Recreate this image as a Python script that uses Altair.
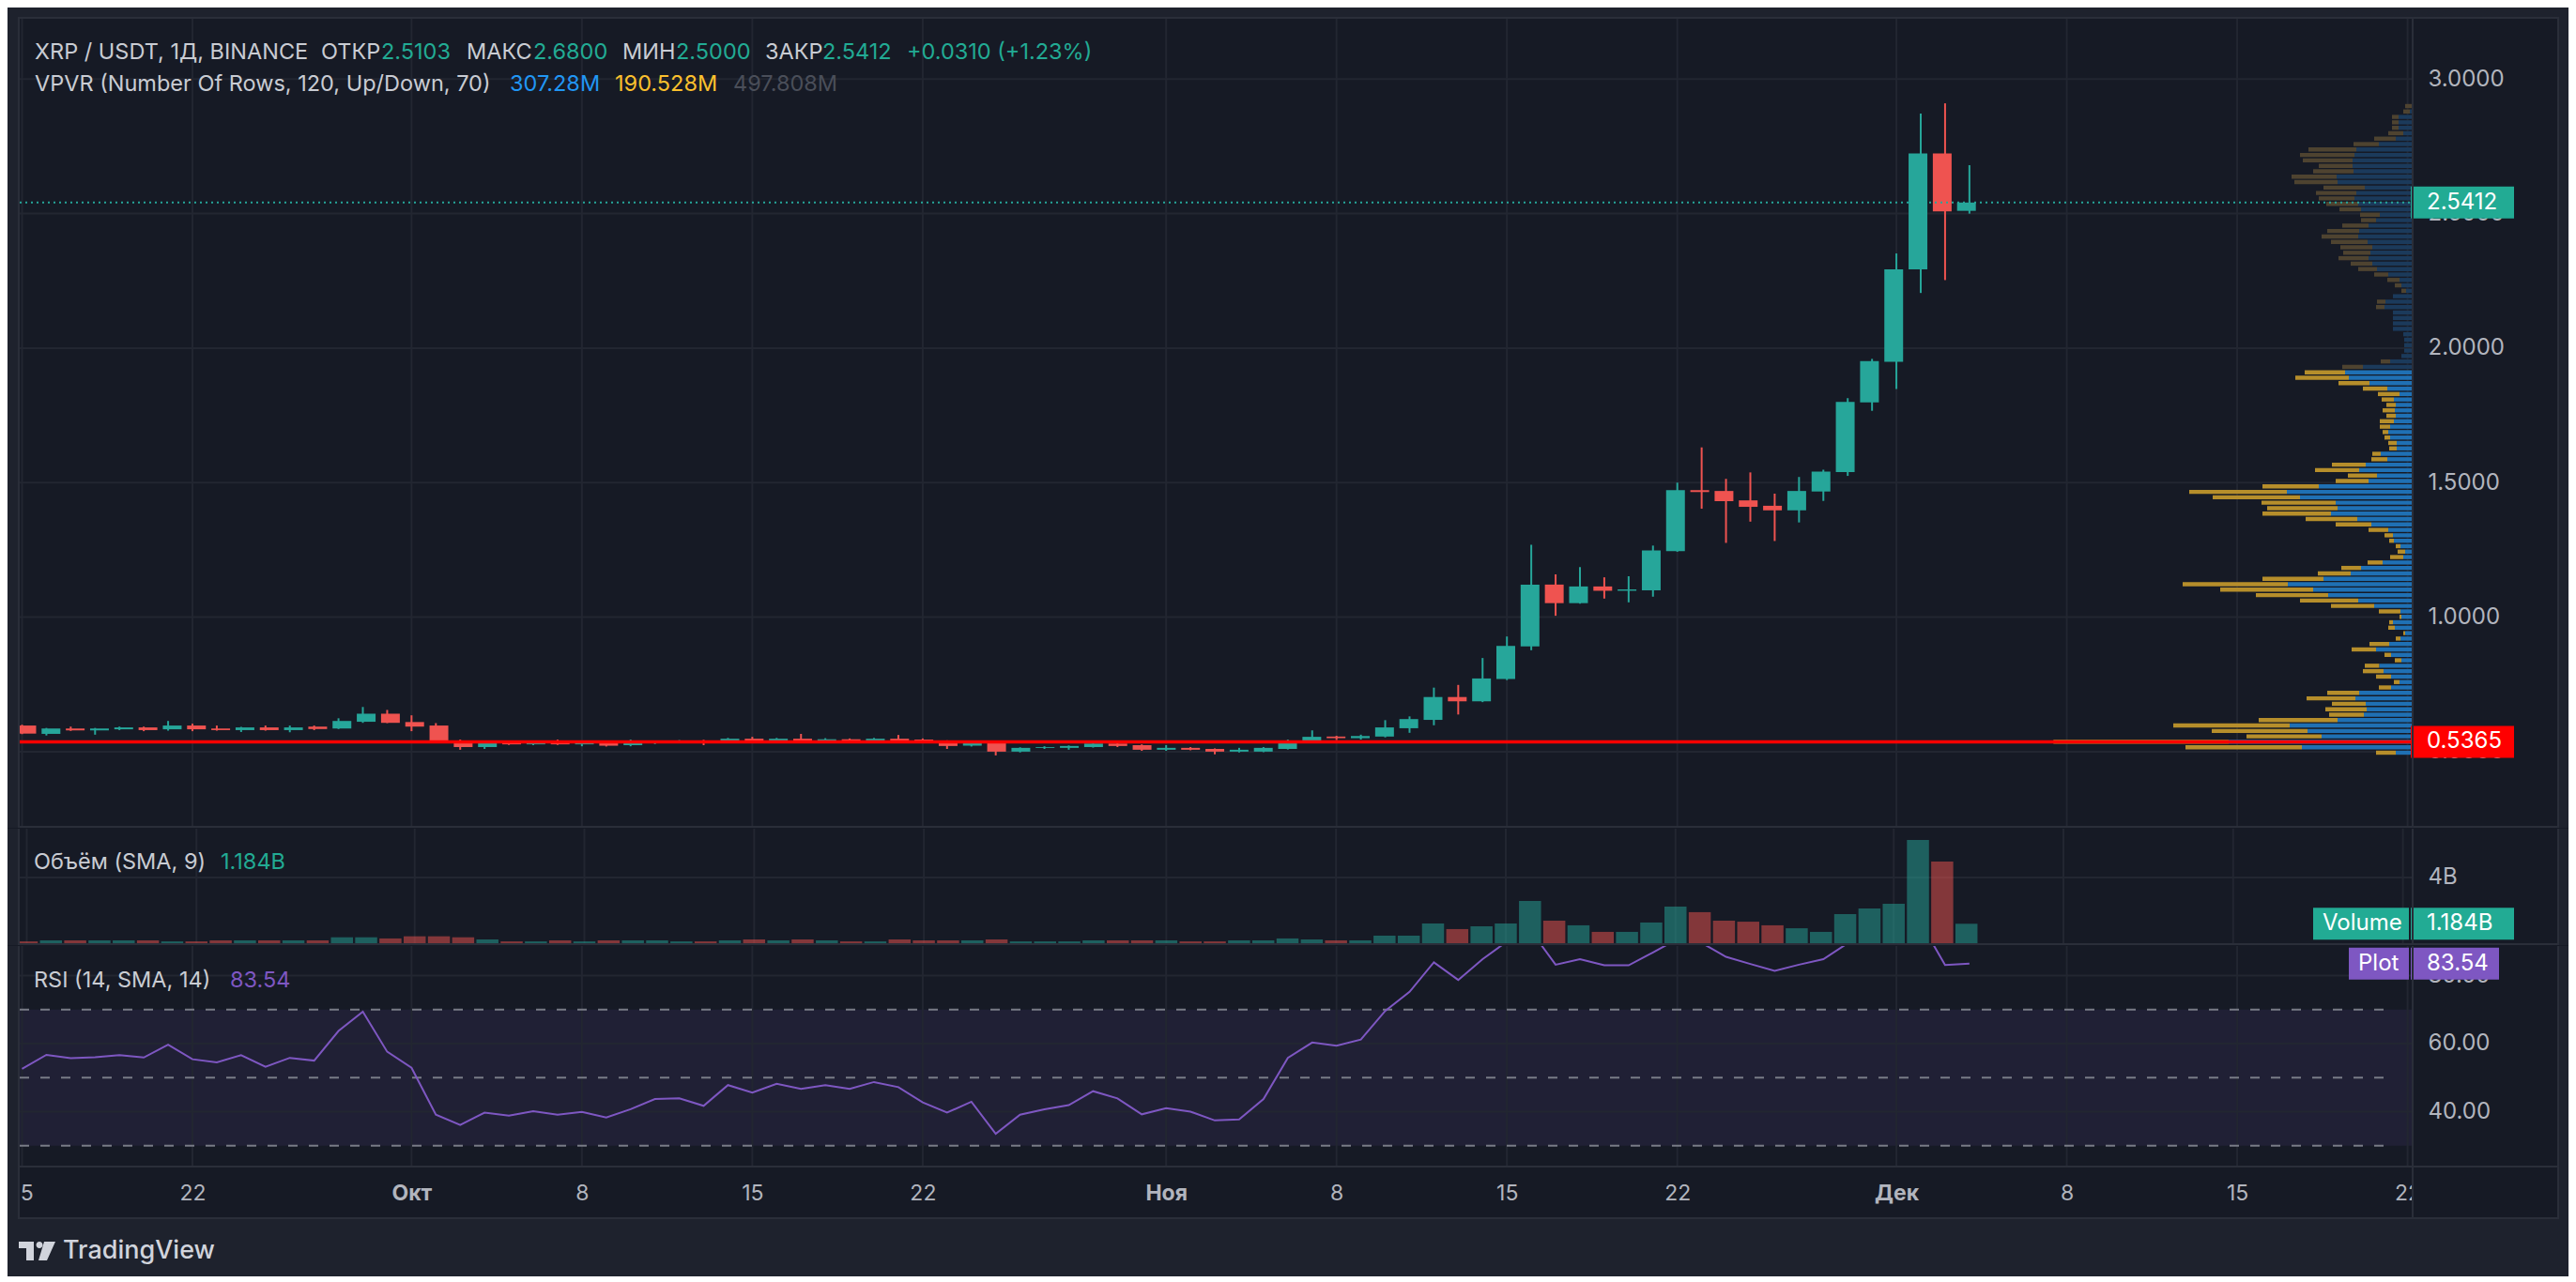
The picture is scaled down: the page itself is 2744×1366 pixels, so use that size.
import altair as alt
import numpy as np
import pandas as pd

# ------------------------------------------------------------------ data
first_day = "2024-09-15"          # daily candles, 15 Sep .. 4 Dec 2024

opens = [0.597, 0.566, 0.586, 0.579, 0.583, 0.590, 0.583, 0.597, 0.586, 0.580, 0.590, 0.580, 0.593, 0.586, 0.611, 0.641,
         0.610, 0.597, 0.541, 0.517, 0.533, 0.527, 0.533, 0.527, 0.533, 0.524, 0.533, 0.537, 0.541, 0.538, 0.548, 0.540,
         0.548, 0.540, 0.546, 0.541, 0.548, 0.545, 0.540, 0.522, 0.533, 0.500, 0.514, 0.514, 0.517, 0.530, 0.524,
         0.507, 0.514, 0.510, 0.500, 0.500, 0.510, 0.540, 0.556, 0.550, 0.556, 0.587, 0.618, 0.703, 0.687, 0.770,
         0.891, 1.121, 1.052, 1.114, 1.098, 1.100, 1.245, 1.472, 1.469, 1.434, 1.414, 1.397, 1.467, 1.539, 1.798,
         1.949, 2.293, 2.724, 2.5103]
highs = [0.600, 0.588, 0.593, 0.588, 0.593, 0.593, 0.614, 0.604, 0.597, 0.592, 0.597, 0.597, 0.597, 0.624, 0.666, 0.655,
         0.635, 0.606, 0.545, 0.536, 0.537, 0.537, 0.545, 0.537, 0.536, 0.545, 0.541, 0.543, 0.544, 0.551, 0.555, 0.551,
         0.566, 0.550, 0.549, 0.551, 0.562, 0.549, 0.542, 0.537, 0.537, 0.516, 0.520, 0.523, 0.536, 0.534, 0.527,
         0.524, 0.517, 0.512, 0.514, 0.517, 0.545, 0.579, 0.559, 0.563, 0.617, 0.631, 0.738, 0.748, 0.848, 0.928,
         1.269, 1.159, 1.186, 1.148, 1.152, 1.266, 1.500, 1.631, 1.514, 1.538, 1.459, 1.521, 1.548, 1.814, 1.960,
         2.352, 2.872, 2.910, 2.680]
lows = [0.565, 0.560, 0.577, 0.563, 0.580, 0.576, 0.578, 0.576, 0.578, 0.573, 0.578, 0.572, 0.580, 0.584, 0.607, 0.606,
        0.576, 0.538, 0.507, 0.510, 0.525, 0.524, 0.525, 0.520, 0.519, 0.520, 0.528, 0.532, 0.524, 0.534, 0.536, 0.537,
        0.538, 0.537, 0.538, 0.538, 0.538, 0.537, 0.510, 0.519, 0.486, 0.497, 0.510, 0.507, 0.515, 0.517, 0.503,
        0.503, 0.505, 0.490, 0.497, 0.498, 0.508, 0.538, 0.543, 0.545, 0.553, 0.570, 0.598, 0.638, 0.684, 0.766,
        0.877, 1.005, 1.050, 1.069, 1.055, 1.076, 1.243, 1.403, 1.276, 1.355, 1.283, 1.352, 1.432, 1.525, 1.767,
        1.848, 2.205, 2.253, 2.500]
closes = [0.567, 0.586, 0.579, 0.586, 0.590, 0.580, 0.597, 0.583, 0.580, 0.590, 0.580, 0.590, 0.584, 0.614, 0.641, 0.607,
          0.593, 0.541, 0.517, 0.533, 0.527, 0.533, 0.527, 0.533, 0.522, 0.533, 0.537, 0.541, 0.538, 0.548, 0.540, 0.548,
          0.540, 0.546, 0.541, 0.548, 0.541, 0.540, 0.521, 0.533, 0.500, 0.514, 0.517, 0.521, 0.530, 0.521, 0.507,
          0.514, 0.507, 0.500, 0.507, 0.514, 0.540, 0.555, 0.550, 0.558, 0.590, 0.621, 0.703, 0.687, 0.772, 0.893,
          1.121, 1.052, 1.114, 1.098, 1.103, 1.248, 1.472, 1.465, 1.431, 1.410, 1.397, 1.469, 1.541, 1.800, 1.952,
          2.293, 2.724, 2.508, 2.5412]
volume_b = [0.11, 0.17, 0.17, 0.17, 0.17, 0.17, 0.11, 0.11, 0.17, 0.17, 0.17, 0.17, 0.17, 0.36, 0.36, 0.29,
            0.42, 0.42, 0.36, 0.23, 0.11, 0.11, 0.17, 0.11, 0.17, 0.17, 0.17, 0.11, 0.11, 0.17, 0.23, 0.17,
            0.23, 0.17, 0.11, 0.11, 0.23, 0.17, 0.17, 0.17, 0.23, 0.11, 0.11, 0.11, 0.17, 0.17, 0.17,
            0.17, 0.11, 0.11, 0.17, 0.17, 0.29, 0.23, 0.17, 0.17, 0.46, 0.46, 1.20, 0.86, 1.03, 1.20,
            2.57, 1.37, 1.09, 0.69, 0.69, 1.26, 2.23, 1.89, 1.37, 1.31, 1.09, 0.91, 0.69, 1.77, 2.11,
            2.40, 6.29, 4.97, 1.184]
rsi = [52.6, 56.7, 55.7, 56.0, 56.6, 55.9, 59.7, 55.4, 54.5, 56.6, 53.2, 55.8, 55.0, 63.7, 69.4, 57.6,
       52.9, 39.1, 36.1, 39.7, 38.8, 40.1, 39.1, 39.9, 38.3, 40.7, 43.7, 43.9, 41.7, 47.8, 45.6, 48.2,
       46.7, 47.8, 46.7, 48.7, 47.2, 42.7, 39.7, 42.9, 33.5, 39.1, 40.7, 41.9, 46.0, 43.9, 39.2,
       41.0, 40.0, 37.4, 37.7, 43.7, 55.8, 60.3, 59.4, 61.2, 69.6, 75.2, 83.9, 78.7, 84.8, 90.0,
       93.0, 83.2, 84.8, 83.0, 83.0, 86.8, 90.7, 89.6, 85.5, 83.4, 81.4, 83.2, 84.8, 89.5, 92.0,
       93.5, 95.5, 83.1, 83.54]

# volume profile (VPVR), 120 rows from the lowest price upward, up / down volume
vp_up = [51, 351, 585, 288, 333, 390, 237, 153, 144, 147,
         180, 168, 66, 39, 66, 90, 104, 33, 66, 114,
         72, 36, 21, 54, 60, 33, 36, 120, 171, 267,
         315, 396, 282, 195, 162, 93, 27, 21, 36, 57,
         60, 75, 129, 174, 258, 237, 243, 357, 399, 297,
         138, 111, 168, 147, 78, 99, 48, 48, 69, 75,
         69, 57, 51, 54, 51, 57, 39, 78, 135, 201,
         213, 156, 69, 33, 24, 24, 24, 27, 60, 60,
         60, 60, 87, 84, 60, 18, 33, 39, 75, 111,
         126, 138, 132, 126, 141, 171, 168, 138, 114, 102,
         162, 171, 183, 177, 150, 237, 240, 186, 189, 189,
         183, 177, 105, 51, 27, 42, 42, 42, 6, 0]
vp_down = [63, 372, 560, 240, 306, 372, 252, 111, 132, 108,
           156, 102, 39, 18, 48, 66, 46, 21, 21, 78,
           63, 15, 6, 21, 12, 6, 69, 138, 186, 231,
           297, 336, 195, 105, 63, 48, 42, 24, 15, 15,
           27, 63, 114, 165, 219, 225, 237, 279, 312, 180,
           105, 93, 141, 108, 51, 27, 24, 27, 18, 18,
           33, 45, 30, 39, 30, 39, 69, 78, 99, 171,
           129, 66, 30, 0, 0, 0, 0, 0, 0, 0,
           0, 0, 27, 27, 0, 15, 21, 39, 45, 60,
           69, 96, 87, 102, 117, 117, 102, 84, 48, 63,
           69, 102, 114, 129, 132, 138, 144, 129, 108, 159,
           174, 153, 81, 69, 48, 21, 21, 21, 21, 21]
vp_rows = 120
vp_value_area_top_row = 70

poc_price = 0.5365
last_price = 2.5412
last_volume = 1.184
last_rsi = 83.54

price_ticks = [0.5, 1.0, 1.5, 2.0, 2.5, 3.0]
volume_ticks = [4]
rsi_grid = [40, 60, 80]
rsi_levels = [30, 50, 70]
rsi_band = [30, 70]

tick_dates = ["2024-09-15", "2024-09-22", "2024-10-01", "2024-10-08", "2024-10-15", "2024-10-22",
              "2024-11-01", "2024-11-08", "2024-11-15", "2024-11-22", "2024-12-01", "2024-12-08",
              "2024-12-15", "2024-12-22"]
tick_labels = ["15", "22", "Окт", "8", "15", "22", "Ноя", "8", "15", "22", "Дек", "8", "15", "22"]

header_1 = [("XRP / USDT, 1Д, BINANCE", "txt"), ("ОТКР", "txt"), ("2.5103", "up"), ("МАКС", "txt"),
            ("2.6800", "up"), ("МИН", "txt"), ("2.5000", "up"), ("ЗАКР", "txt"), ("2.5412", "up"),
            ("+0.0310 (+1.23%)", "up")]
header_2 = [("VPVR (Number Of Rows, 120, Up/Down, 70)", "txt"), ("307.28M", "blue"),
            ("190.528M", "yellow"), ("497.808M", "dim")]

# ------------------------------------------------------------------ style / layout
W, H1, H2, H3 = 2548, 860, 122, 234
AX = 155
BG = "#161a25"
OUTER = "#1e222d"
BORDER = "#2a2e39"
GRID = "#222631"
AXIS_TXT = "#b2b5be"
LEG_TXT = "#c9ccd3"
UP = "#26a69a"
DOWN = "#ef5350"
TEAL = "#22ab94"
PURPLE = "#7e57c2"
FONT = "Inter"
LEG_SIZE = 23.5
PAL = {"txt": LEG_TXT, "up": TEAL, "blue": "#2196f3", "yellow": "#fbc02d", "dim": "#4a4e59"}
header_1_x = [16, 321, 385, 476, 547, 642, 699, 794, 855, 945]
header_2_x = [16, 522, 634, 760]

X_DOMAIN = [-0.096, 98.17]
P_DOMAIN = [0.2414, 3.2069]
V_DOMAIN = [0, 6.971]
R_DOMAIN = [24.12, 88.68]

# ------------------------------------------------------------------ frames
n = len(opens)
df = pd.DataFrame({"d": np.arange(n), "o": opens, "h": highs, "l": lows, "c": closes,
                   "v": volume_b, "rsi": rsi})
df["col"] = np.where(df["c"] >= df["o"], UP, DOWN)

t0 = pd.Timestamp(first_day)
ticks_df = pd.DataFrame({"d": [(pd.Timestamp(t) - t0).days for t in tick_dates], "lab": tick_labels})

lo, hi = min(lows), max(highs)
step = (hi - lo) / vp_rows
vp_df = pd.DataFrame({"mid": lo + (np.arange(vp_rows) + 0.5) * step, "up": vp_up, "dn": vp_down})
vp_df["tot"] = vp_df["up"] + vp_df["dn"]
vp_df["zero"] = 0
inside = np.arange(vp_rows) <= vp_value_area_top_row
vp_df["cb"] = np.where(inside, "#1f70b4", "#1b3a5b")
vp_df["cy"] = np.where(inside, "#b68e2b", "#4e4330")

one = pd.DataFrame({"k": [0]})

xs = alt.Scale(domain=X_DOMAIN, nice=False, zero=False)
ps = alt.Scale(domain=P_DOMAIN, nice=False, zero=False)
vs = alt.Scale(domain=V_DOMAIN, nice=False, zero=False)
rs = alt.Scale(domain=R_DOMAIN, nice=False, zero=False)
vps = alt.Scale(domain=[0, 3 * W], reverse=True, nice=False, zero=False)


def right_axis(values, fmt=None, expr=None):
    kw = dict(orient="right", values=values, labelColor=AXIS_TXT, labelFont=FONT, labelFontSize=24,
              labelPadding=17, ticks=False, domain=False, grid=False, title=None,
              labelBaseline="middle", labelAlign="left", labelOverlap=False)
    if fmt:
        kw["format"] = fmt
    if expr:
        kw["labelExpr"] = expr
    return alt.Axis(**kw)


month_days = [d for d, l in zip(ticks_df["d"], tick_labels) if not l.isdigit()]
lab_expr = ("[" + ",".join("'" + s + "'" for s in tick_labels) + "][indexof(["
            + ",".join(str(v) for v in ticks_df["d"]) + "], datum.value)]")
month_test = "indexof([" + ",".join(str(v) for v in month_days) + "], datum.value) >= 0"
time_axis = alt.Axis(orient="bottom", values=list(ticks_df["d"]), labelExpr=lab_expr,
                     labelColor=AXIS_TXT, labelFont=FONT, labelFontSize=23, labelPadding=29,
                     labelBaseline="middle",
                     labelFontWeight={"condition": {"test": month_test, "value": "bold"}, "value": "normal"},
                     ticks=False, domain=False, grid=False, title=None, labelFlush=False, labelOverlap=False)

price_axis = right_axis(price_ticks, fmt=".4f")
vol_axis = right_axis(volume_ticks, expr="format(datum.value, 'd') + 'B'")
rsi_axis = right_axis(rsi_grid, fmt=".2f")


def box(x1, x2, y1, y2, color):
    return alt.Chart(one).mark_rect(color=color).encode(
        x=alt.value(x1), x2=alt.value(x2), y=alt.value(y1), y2=alt.value(y2))


def text(t, x, y, color, size=LEG_SIZE, weight="normal", align="left"):
    return alt.Chart(one).mark_text(text=t, color=color, fontSize=size, font=FONT, fontWeight=weight,
                                    align=align, baseline="middle").encode(x=alt.value(x), y=alt.value(y))


def side_frame(y1, y2):
    return [box(-13, -2, y1, y2, OUTER), box(-2, 0, y1, y2, BORDER),
            box(W + AX, W + AX + 2, y1, y2, BORDER), box(W + AX + 2, W + AX + 12, y1, y2, OUTER)]


def vgrid(h, axis=None):
    return alt.Chart(ticks_df).mark_rule(color=GRID, strokeWidth=2).encode(
        x=alt.X("d:Q", scale=xs, axis=axis), y=alt.value(0), y2=alt.value(h))


# ------------------------------------------------------------------ price pane
def pY(f):
    return alt.Y(f, type="quantitative", scale=ps, axis=price_axis)


def pX(f):
    return alt.X(f, type="quantitative", scale=xs, axis=None)


price_layers = [
    vgrid(H1),
    alt.Chart(pd.DataFrame({"p": price_ticks})).mark_rule(color=GRID, strokeWidth=2).encode(
        y=pY("p"), x=alt.value(0), x2=alt.value(W)),
    alt.Chart(vp_df).mark_bar(orient="horizontal", size=4.4).encode(
        y=pY("mid"), x=alt.X("up:Q", scale=vps, axis=None), x2="zero:Q", color=alt.Color("cb:N", scale=None)),
    alt.Chart(vp_df).mark_bar(orient="horizontal", size=4.4).encode(
        y=pY("mid"), x=alt.X("up:Q", scale=vps, axis=None), x2="tot:Q", color=alt.Color("cy:N", scale=None)),
    alt.Chart(df).mark_rule(strokeWidth=2).encode(
        x=pX("d"), y=pY("l"), y2="h:Q", color=alt.Color("col:N", scale=None)),
    alt.Chart(df).mark_bar(size=20).encode(
        x=pX("d"), y=pY("o"), y2="c:Q", color=alt.Color("col:N", scale=None)),
    alt.Chart(pd.DataFrame({"p": [poc_price]})).mark_rule(color="#ff0000", strokeWidth=3.5).encode(
        y=pY("p"), x=alt.value(0), x2=alt.value(W)),
    alt.Chart(pd.DataFrame({"p": [last_price]})).mark_rule(color=UP, strokeWidth=2, strokeDash=[2, 4]).encode(
        y=pY("p"), x=alt.value(0), x2=alt.value(W)),
    alt.Chart(pd.DataFrame({"p": [last_price, poc_price], "col": [TEAL, "#ff0000"]})).mark_rule(
        strokeWidth=34).encode(y=pY("p"), x=alt.value(W - 1), x2=alt.value(W + 109),
                               color=alt.Color("col:N", scale=None)),
    alt.Chart(pd.DataFrame({"p": [last_price, poc_price],
                            "t": [f"{last_price:.4f}", f"{poc_price:.4f}"]})).mark_text(
        align="left", baseline="middle", fontSize=24, font=FONT, color="white").encode(
        y=pY("p"), x=alt.value(W + 16), text="t:N"),
]
for (t, c), x in zip(header_1, header_1_x):
    price_layers.append(text(t, x, 36, PAL[c]))
for (t, c), x in zip(header_2, header_2_x):
    price_layers.append(text(t, x, 70, PAL[c]))
price_layers += [
    box(W, W + 2, 0, H1, BORDER),
    box(0, W + AX, H1, H1 + 2, BORDER),
    box(-13, W + AX + 12, -12, -2, OUTER),
    box(-2, W + AX + 2, -2, 0, BORDER),
] + side_frame(-2, H1 + 2)

price = alt.layer(*price_layers).properties(width=W, height=H1).resolve_scale(x="independent")

# ------------------------------------------------------------------ volume pane
def vY(f):
    return alt.Y(f, type="quantitative", scale=vs, axis=vol_axis)


vol_layers = [
    vgrid(H2),
    alt.Chart(pd.DataFrame({"p": volume_ticks})).mark_rule(color=GRID, strokeWidth=2).encode(
        y=vY("p"), x=alt.value(0), x2=alt.value(W)),
    alt.Chart(df).mark_bar(size=23.5, opacity=0.5).encode(
        x=pX("d"), y=vY("v"), color=alt.Color("col:N", scale=None)),
    alt.Chart(pd.DataFrame({"p": [last_volume, last_volume], "a": [W - 105, W - 1],
                            "b": [W - 3, W + 109]})).mark_rule(strokeWidth=34, color=TEAL).encode(
        y=vY("p"), x=alt.X("a:Q", scale=None), x2="b:Q"),
    alt.Chart(pd.DataFrame({"p": [last_volume]})).mark_text(
        align="left", baseline="middle", fontSize=24, font=FONT, color="white", text="Volume").encode(
        y=vY("p"), x=alt.value(W - 95)),
    alt.Chart(pd.DataFrame({"p": [last_volume]})).mark_text(
        align="left", baseline="middle", fontSize=24, font=FONT, color="white",
        text=f"{last_volume:.3f}B").encode(y=vY("p"), x=alt.value(W + 16)),
    text("Объём (SMA, 9)", 15, 36, LEG_TXT),
    text(f"{last_volume:.3f}B", 214, 36, TEAL),
    box(W, W + 2, 0, H2, BORDER),
    box(0, W + AX, H2, H2 + 2, BORDER),
] + side_frame(0, H2 + 2)
volume = alt.layer(*vol_layers).properties(width=W, height=H2)

# ------------------------------------------------------------------ RSI pane
def rY(f):
    return alt.Y(f, type="quantitative", scale=rs, axis=rsi_axis)


def rX(f):
    return alt.X(f, type="quantitative", scale=xs, axis=time_axis)


TA = H3 + 55
rsi_layers = [
    alt.Chart(pd.DataFrame({"lo": [rsi_band[0]], "hi": [rsi_band[1]]})).mark_rect(
        color=PURPLE, opacity=0.1).encode(y=rY("hi"), y2="lo:Q", x=alt.value(0), x2=alt.value(W)),
    vgrid(H3, axis=time_axis),
    alt.Chart(pd.DataFrame({"p": rsi_grid})).mark_rule(color=GRID, strokeWidth=2).encode(
        y=rY("p"), x=alt.value(0), x2=alt.value(W)),
    alt.Chart(pd.DataFrame({"p": rsi_levels})).mark_rule(color="#787b86", strokeWidth=2,
                                                          strokeDash=[10, 12]).encode(
        y=rY("p"), x=alt.value(0), x2=alt.value(W - 20)),
    alt.Chart(df).mark_line(color=PURPLE, strokeWidth=2, clip=True).encode(x=rX("d"), y=rY("rsi")),
    alt.Chart(pd.DataFrame({"p": [last_rsi, last_rsi], "a": [W - 67, W - 1],
                            "b": [W - 3, W + 93]})).mark_rule(strokeWidth=34, color=PURPLE).encode(
        y=rY("p"), x=alt.X("a:Q", scale=None), x2="b:Q"),
    alt.Chart(pd.DataFrame({"p": [last_rsi]})).mark_text(
        align="left", baseline="middle", fontSize=24, font=FONT, color="white", text="Plot").encode(
        y=rY("p"), x=alt.value(W - 57)),
    alt.Chart(pd.DataFrame({"p": [last_rsi]})).mark_text(
        align="left", baseline="middle", fontSize=24, font=FONT, color="white",
        text=f"{last_rsi:.2f}").encode(y=rY("p"), x=alt.value(W + 16)),
    text("RSI (14, SMA, 14)", 15, 37, LEG_TXT),
    text(f"{last_rsi:.2f}", 224, 37, PURPLE),
    box(0, W + AX, H3, H3 + 2, BORDER),
    box(W + 2, W + 40, H3 + 2, TA, BG),
    box(W, W + 2, 0, TA, BORDER),
    box(-2, W + AX + 2, TA, TA + 2, BORDER),
    box(-13, W + AX + 12, TA + 2, 352, OUTER),
] + side_frame(0, TA + 2) + [
    alt.Chart(one).mark_point(
        shape=("M-1,-0.5 L-0.2,-0.5 L-0.2,0.5 L-0.6,0.5 L-0.6,-0.15 L-1,-0.15 Z "
               "M-0.075,-0.325 A0.175,0.175 0 1,0 0.275,-0.325 A0.175,0.175 0 1,0 -0.075,-0.325 Z "
               "M0.35,-0.5 L0.95,-0.5 L0.5,0.5 L0.05,0.5 Z"),
        size=1600, filled=True, color="#d1d4dc", opacity=1, strokeWidth=0).encode(
        x=alt.value(19), y=alt.value(325)),
    text("TradingView", 46, 325, "#d1d4dc", size=27, weight=500),
]
rsi_chart = alt.layer(*rsi_layers).properties(width=W, height=H3)

chart = (alt.vconcat(price, volume, rsi_chart, spacing=0)
         .properties(padding=0)
         .configure(background=BG)
         .configure_view(strokeWidth=0, fill=BG))

chart.save("out.html", embed_options={"renderer": "svg", "actions": False})
